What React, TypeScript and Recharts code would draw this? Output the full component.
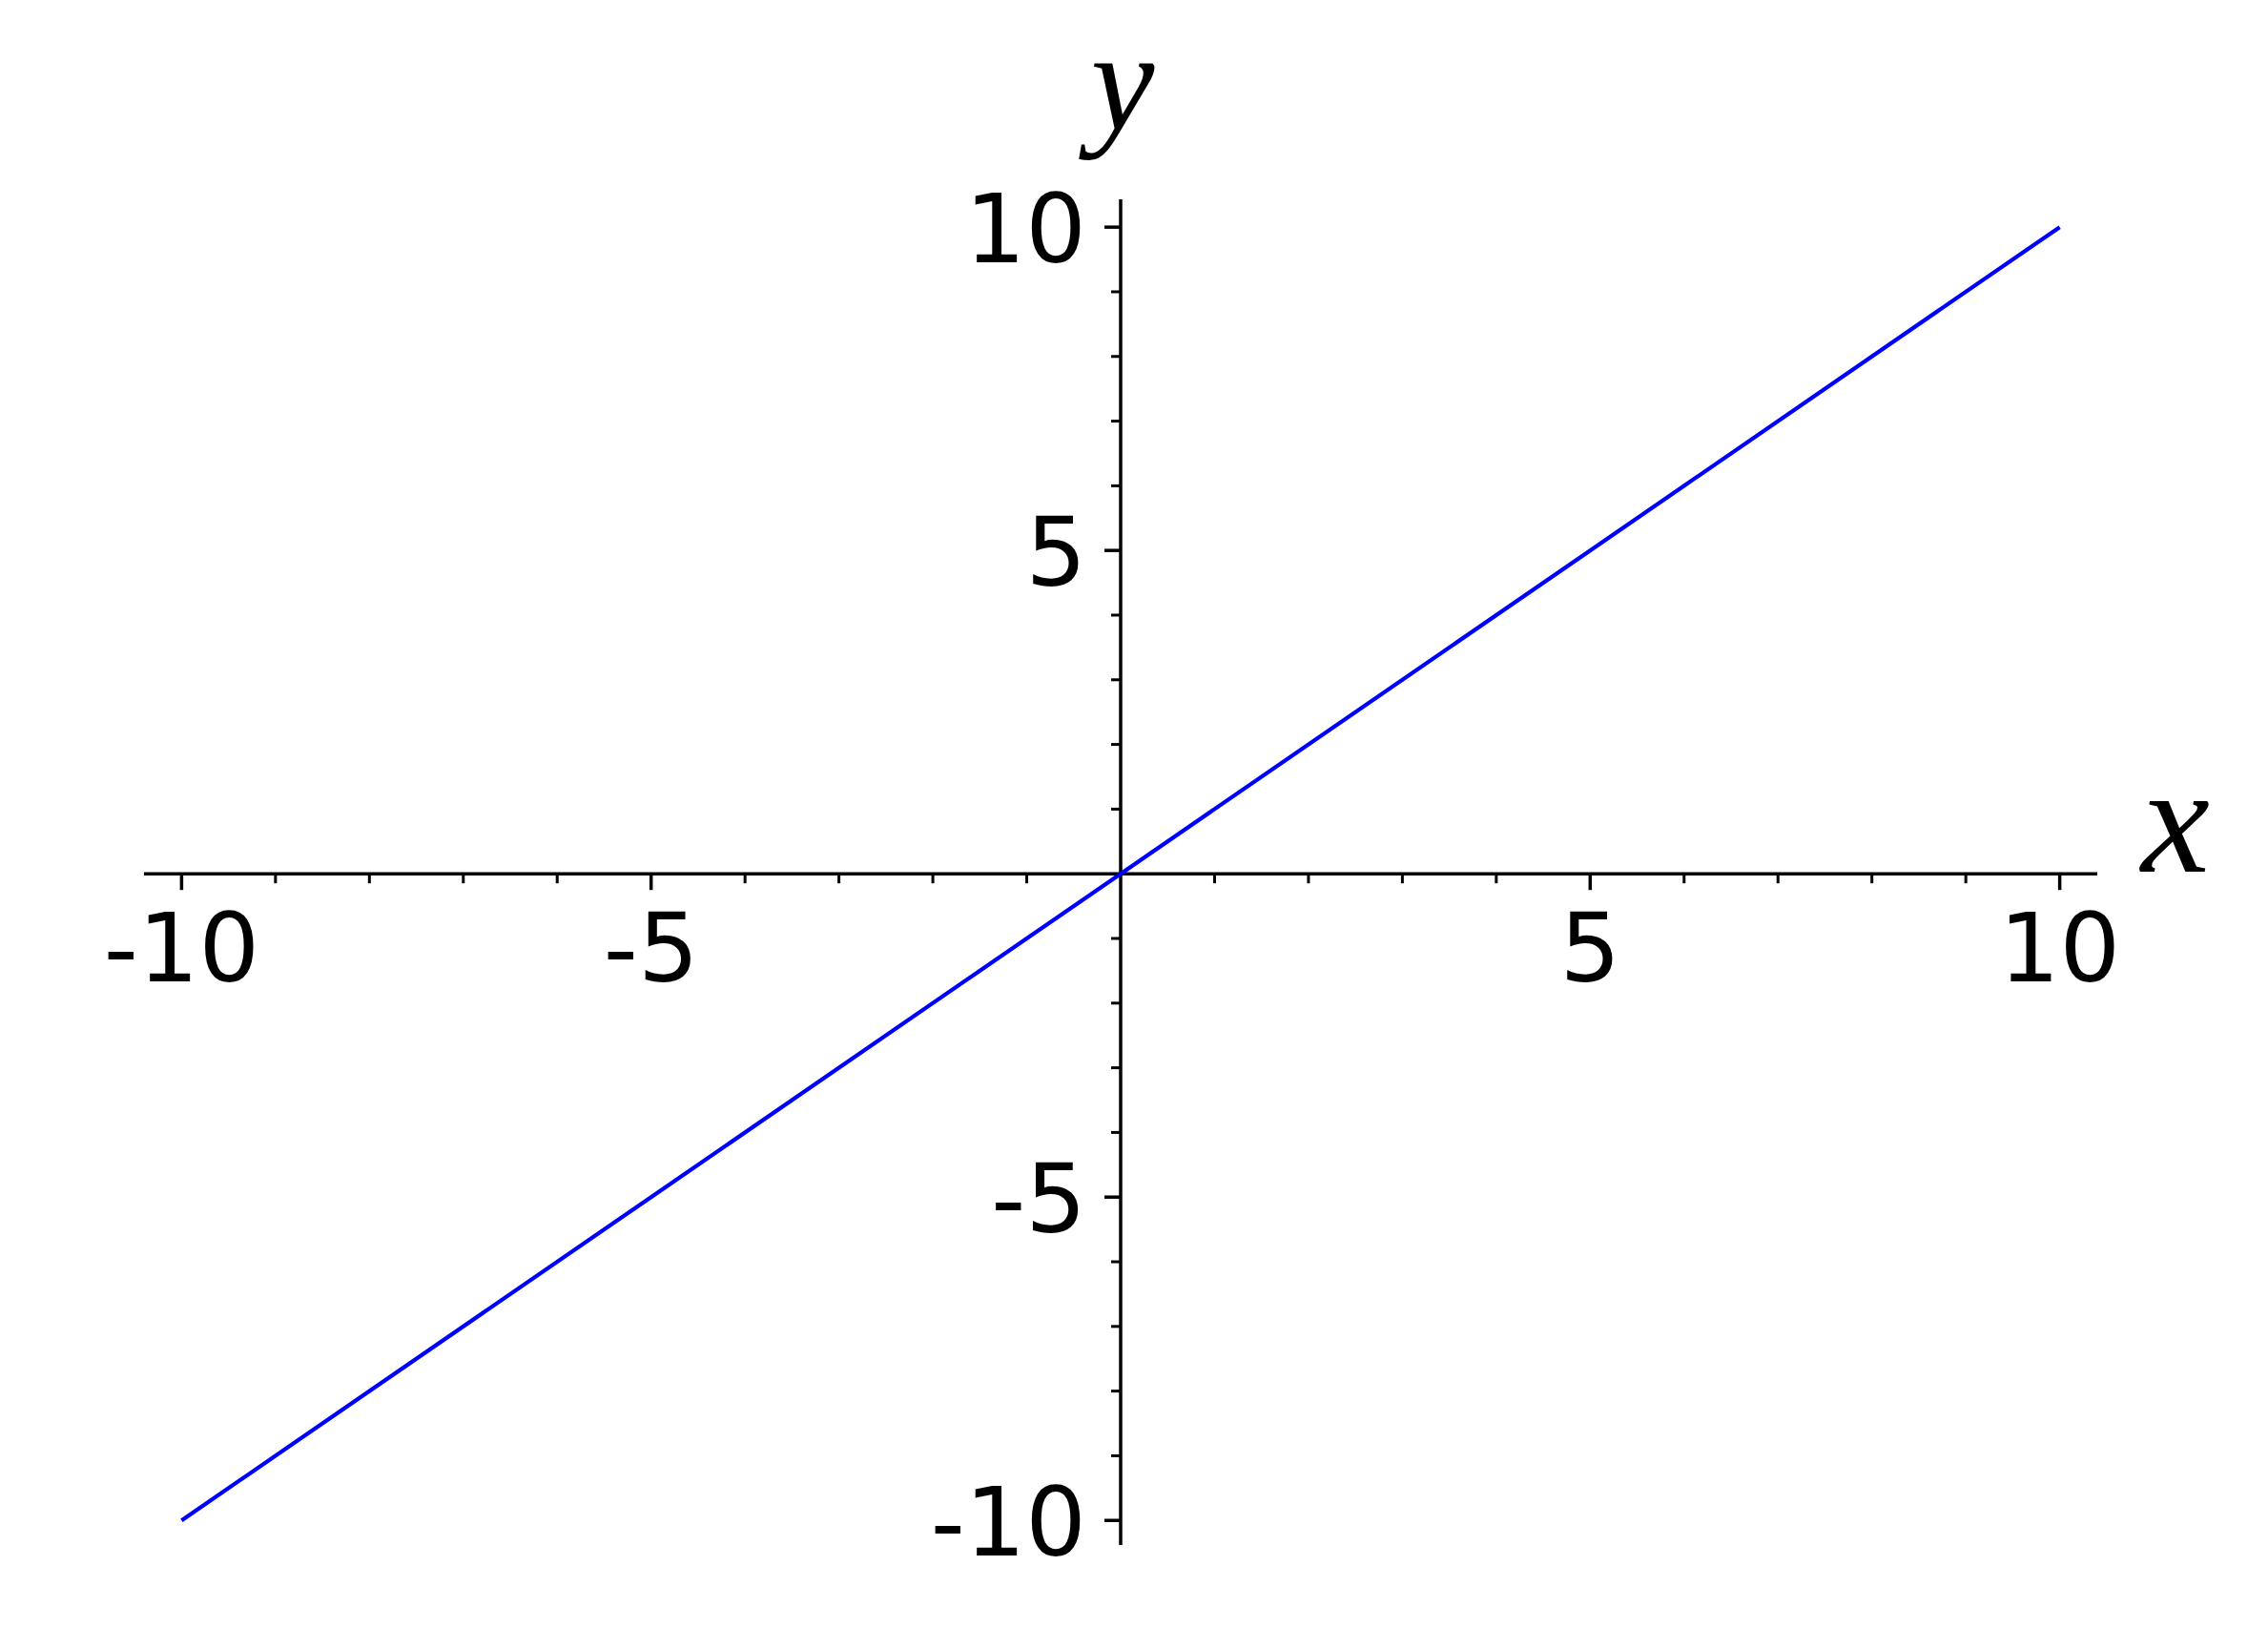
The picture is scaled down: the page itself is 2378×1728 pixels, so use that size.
import React from "react";
import { LineChart, Line, XAxis, YAxis, ReferenceLine, ReferenceDot } from "recharts";

const xValues = [-10, -5, 0, 5, 10];
const yValues = [-10, -5, 0, 5, 10];

const xMajorTicks = [-10, -5, 5, 10];
const xMajorLabels = ["-10", "-5", "5", "10"];
const xMinorTicks = [-9, -8, -7, -6, -4, -3, -2, -1, 1, 2, 3, 4, 6, 7, 8, 9];
const yMajorTicks = [-10, -5, 5, 10];
const yMajorLabels = ["-10", "-5", "5", "10"];
const yMinorTicks = [-9, -8, -7, -6, -4, -3, -2, -1, 1, 2, 3, 4, 6, 7, 8, 9];

const xDomain: [number, number] = [-10.4, 10.4];
const yDomain: [number, number] = [-10.38, 10.43];

const data = xValues.map((x, i) => ({ x, y: yValues[i] }));

const TICK_FONT = "'DejaVu Sans', sans-serif";
const TICK_SIZE = 100;
const LABEL_FONT = "'Liberation Serif', serif";

const xTickShape = (label: string | null, len: number, w: number) => (p: any) => (
  <g>
    <line x1={p.cx} y1={p.cy} x2={p.cx} y2={p.cy + len} stroke="#000" strokeWidth={w} />
    {label !== null && (
      <text x={p.cx} y={p.cy + 113} textAnchor="middle" fontSize={TICK_SIZE} fontFamily={TICK_FONT} fill="#000">
        {label}
      </text>
    )}
  </g>
);

const yTickShape = (label: string | null, len: number, w: number) => (p: any) => (
  <g>
    <line x1={p.cx - len} y1={p.cy} x2={p.cx} y2={p.cy} stroke="#000" strokeWidth={w} />
    {label !== null && (
      <text x={p.cx - 36} y={p.cy + 37} textAnchor="end" fontSize={TICK_SIZE} fontFamily={TICK_FONT} fill="#000">
        {label}
      </text>
    )}
  </g>
);

const xLabelShape = (p: any) => (
  <text x={p.cx + 46} y={p.cy - 2} fontSize={162} fontStyle="italic" fontFamily={LABEL_FONT} fill="#000">
    x
  </text>
);

const yLabelShape = (p: any) => (
  <text x={p.cx + 2} y={p.cy - 73} textAnchor="middle" fontSize={150} fontStyle="italic" fontFamily={LABEL_FONT} fill="#000">
    y
  </text>
);

export default function App() {
  return (
    <div style={{ position: "absolute", left: 0, top: 0, width: 2378, height: 1728, background: "#fff", overflow: "hidden" }}>
      <LineChart width={2378} height={1728} data={data} margin={{ top: 209, right: 179, bottom: 108, left: 151 }}>
        <XAxis dataKey="x" type="number" domain={xDomain} allowDataOverflow hide />
        <YAxis dataKey="y" type="number" domain={yDomain} allowDataOverflow hide />
        <ReferenceLine y={0} stroke="#000" strokeWidth={3.5} />
        <ReferenceLine x={0} stroke="#000" strokeWidth={3.5} />
        <Line type="linear" dataKey="y" stroke="#0000ff" strokeWidth={4.2} dot={false} isAnimationActive={false} />
        {xMajorTicks.map((t, i) => (
          <ReferenceDot key={"xM" + t} x={t} y={0} r={0} shape={xTickShape(xMajorLabels[i], 17, 3.5)} />
        ))}
        {xMinorTicks.map((t) => (
          <ReferenceDot key={"xm" + t} x={t} y={0} r={0} shape={xTickShape(null, 10, 3)} />
        ))}
        {yMajorTicks.map((t, i) => (
          <ReferenceDot key={"yM" + t} x={0} y={t} r={0} shape={yTickShape(yMajorLabels[i], 17, 3.5)} />
        ))}
        {yMinorTicks.map((t) => (
          <ReferenceDot key={"ym" + t} x={0} y={t} r={0} shape={yTickShape(null, 10, 3)} />
        ))}
        <ReferenceDot x={xDomain[1]} y={0} r={0} shape={xLabelShape} />
        <ReferenceDot x={0} y={yDomain[1]} r={0} shape={yLabelShape} />
      </LineChart>
    </div>
  );
}
